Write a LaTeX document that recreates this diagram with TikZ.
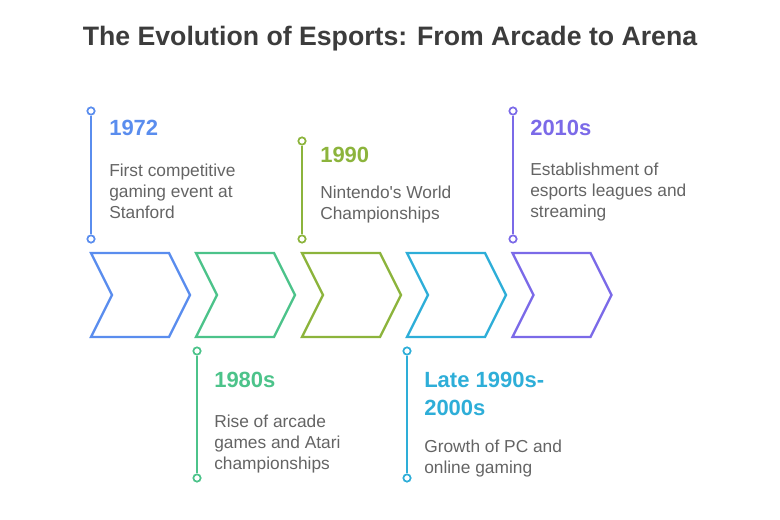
\documentclass[tikz,border=0pt]{standalone}
\usepackage{fontspec}
\setmainfont{Liberation Sans}
\usetikzlibrary{shapes.symbols, positioning}
\definecolor{cblue}{RGB}{90,141,238}
\definecolor{cgreen}{RGB}{76,195,138}
\definecolor{colive}{RGB}{140,180,60}
\definecolor{ccyan}{RGB}{46,174,216}
\definecolor{cpurple}{RGB}{123,106,232}
\definecolor{titlegray}{RGB}{60,60,60}
\definecolor{descgray}{RGB}{100,100,100}
\tikzstyle{chev} = [signal, signal to=east, signal from=west, signal pointer angle=126.87, minimum width=74.25pt, minimum height=63pt, inner sep=0pt, line width=1.7pt, draw, fill=white]
\tikzstyle{dot} = [circle, minimum size=5.5pt, inner sep=0pt, line width=1.3pt, draw, fill=white]
\tikzstyle{stem} = [line width=1.7pt]
\tikzstyle{year} = [anchor=north west, inner sep=0pt, align=left, font=\bfseries\fontsize{16.5}{21}\selectfont]
\tikzstyle{desc} = [anchor=north west, inner sep=0pt, align=left, text=descgray, font=\fontsize{13}{15.5}\selectfont]

\begin{document}
\begin{tikzpicture}[x=0.75pt, y=-0.75pt]
    \useasboundingbox (0,0) rectangle (780,520);

    \node (title) [anchor=base, text=titlegray, font=\bfseries\fontsize{20}{24}\selectfont] at (390,46) {The Evolution of Esports: From Arcade to Arena};

    % chevrons
    \node (c1) [chev, draw=cblue]   at (140.5,295) {};
    \node (c2) [chev, draw=cgreen]  at (245.5,295) {};
    \node (c3) [chev, draw=colive]  at (351.5,295) {};
    \node (c4) [chev, draw=ccyan]   at (456.5,295) {};
    \node (c5) [chev, draw=cpurple] at (562,295) {};

    % stems
    \node (d1a) [dot, draw=cblue]   at (91,111) {};
    \node (d1b) [dot, draw=cblue]   at (91,239) {};
    \node (d2a) [dot, draw=cgreen]  at (197,351) {};
    \node (d2b) [dot, draw=cgreen]  at (197,478) {};
    \node (d3a) [dot, draw=colive]  at (302,141) {};
    \node (d3b) [dot, draw=colive]  at (302,239) {};
    \node (d4a) [dot, draw=ccyan]   at (407,351) {};
    \node (d4b) [dot, draw=ccyan]   at (407,478) {};
    \node (d5a) [dot, draw=cpurple] at (513,111) {};
    \node (d5b) [dot, draw=cpurple] at (513,239) {};

    \draw [stem, cblue]   (d1a) -- (d1b);
    \draw [stem, cgreen]  (d2a) -- (d2b);
    \draw [stem, colive]  (d3a) -- (d3b);
    \draw [stem, ccyan]   (d4a) -- (d4b);
    \draw [stem, cpurple] (d5a) -- (d5b);

    % labels
    \node (y1) [year, text=cblue] at (109,120) {1972};
    \node (t1) [desc] at (109,164) {First competitive\\gaming event at\\Stanford};

    \node (y2) [year, text=cgreen] at (214,372) {1980s};
    \node (t2) [desc] at (214,415) {Rise of arcade\\games and Atari\\championships};

    \node (y3) [year, text=colive] at (320,147) {1990};
    \node (t3) [desc] at (320,186) {Nintendo\textquotesingle s World\\Championships};

    \node (y4) [year, text=ccyan] at (424,372) {Late 1990s-\\2000s};
    \node (t4) [desc] at (424,440) {Growth of PC and\\online gaming};

    \node (y5) [year, text=cpurple] at (530,120) {2010s};
    \node (t5) [desc] at (530,163) {Establishment of\\esports leagues and\\streaming};
\end{tikzpicture}
\end{document}
